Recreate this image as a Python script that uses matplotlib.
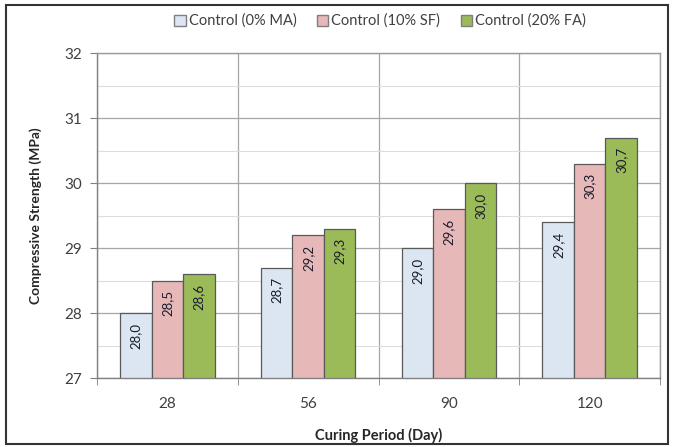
import matplotlib.pyplot as plt
import matplotlib.patches as mpatches
import numpy as np

plt.rcParams['font.family'] = ['Lato', 'DejaVu Sans']

# data
periods = ['28', '56', '90', '120']
series_names = ['Control (0% MA)', 'Control (10% SF)', 'Control (20% FA)']
ma_0 = [28.0, 28.7, 29.0, 29.4]
sf_10 = [28.5, 29.2, 29.6, 30.3]
fa_20 = [28.6, 29.3, 30.0, 30.7]
colors = ['#DCE6F2', '#E6B9B8', '#9BBB59']

fig = plt.figure(figsize=(6.73, 4.47), dpi=100)
ax = fig.add_axes([97/673, 1 - 378/447, (660-97)/673, (378-53)/447])

x = np.arange(len(periods))
w = 0.224
for i, (vals, col) in enumerate(zip([ma_0, sf_10, fa_20], colors)):
    pos = x + (i - 1) * w
    ax.bar(pos, np.array(vals) - 27, bottom=27, width=w, color=col,
           edgecolor='#595959', linewidth=0.9, label=series_names[i], zorder=3)
    for p, v in zip(pos, vals):
        ax.annotate(f'{v:.1f}'.replace('.', ','), (p, v), xytext=(0, -7),
                    textcoords='offset points', rotation=90, ha='center', va='top',
                    fontsize=9.5, color='#1a1a2e', zorder=4)

ax.set_ylim(27, 32)
ax.set_xlim(-0.5, len(periods) - 0.5)
ax.set_yticks(np.arange(27, 33, 1))
ax.set_yticks(np.arange(27.5, 32, 1), minor=True)
ax.set_xticks(x)
ax.set_xticklabels(periods)
ax.set_xticks(np.arange(-0.5, len(periods), 1), minor=True)
ax.grid(True, axis='y', which='major', color='#A6A6A6', linewidth=0.9, zorder=0)
ax.grid(True, axis='y', which='minor', color='#DDDDDD', linewidth=0.8, zorder=0)
ax.grid(True, axis='x', which='minor', color='#A6A6A6', linewidth=0.9, zorder=0)
ax.tick_params(axis='x', which='major', length=0, pad=14, labelsize=11, labelcolor='#404040')
ax.tick_params(axis='x', which='minor', length=5, color='#808080', direction='out')
ax.tick_params(axis='y', which='major', length=5, color='#808080', labelsize=11,
               labelcolor='#404040', pad=6)
ax.tick_params(axis='y', which='minor', length=0)
for s in ax.spines.values():
    s.set_color('#9a9a9a')
    s.set_linewidth(1)
ax.spines['left'].set_color('#808080')
ax.spines['bottom'].set_color('#808080')

ax.set_ylabel('Compressive Strength (MPa)', fontweight='bold', fontsize=10, color='#262626', labelpad=16)
ax.set_xlabel('Curing Period (Day)', fontweight='bold', fontsize=10.5, color='#262626', labelpad=12)

handles = [mpatches.Patch(facecolor=c, edgecolor='#7f7f7f', label=n) for c, n in zip(colors, series_names)]
fig.legend(handles=handles, loc='center', bbox_to_anchor=(380/673, 1 - 21/447), ncol=3,
           frameon=False, fontsize=10.5, handlelength=0.8, handleheight=0.8,
           handletextpad=0.2, columnspacing=1.4, labelcolor='#404040')

fig.patches.append(mpatches.Rectangle((6/673, 3/447), 662/673, 439/447, transform=fig.transFigure,
                                      fill=False, edgecolor='#333333', linewidth=1.5))

fig.savefig('out.png', dpi=100)
